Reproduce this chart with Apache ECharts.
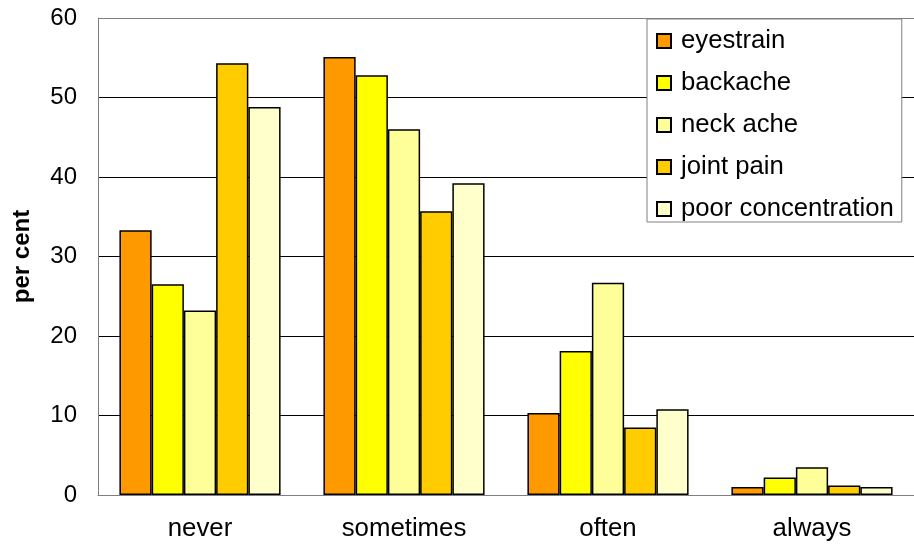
<!DOCTYPE html>
<html>
<head>
<meta charset="utf-8">
<script src="https://cdn.jsdelivr.net/npm/echarts@6/dist/echarts.min.js"></script>
<style>
html,body{margin:0;padding:0;background:#fff;}
#chart{width:914px;height:546px;}
</style>
</head>
<body>
<div id="chart"></div>
<script>
var categories = ['never', 'sometimes', 'often', 'always'];
var eyestrain = [33.3, 55.1, 10.3, 1.0];
var backache = [26.5, 52.8, 18.1, 2.2];
var neckAche = [23.2, 46.0, 26.7, 3.5];
var jointPain = [54.3, 35.7, 8.5, 1.2];
var poorConcentration = [48.8, 39.2, 10.8, 1.0];
var yTicks = [0, 10, 20, 30, 40, 50, 60];

var seriesNames = ['eyestrain', 'backache', 'neck ache', 'joint pain', 'poor concentration'];
var seriesData = [eyestrain, backache, neckAche, jointPain, poorConcentration];
var seriesColors = ['#FF9900', '#FFFF00', '#FFFF99', '#FFCC00', '#FFFFCC'];

var FONT = "'Liberation Sans', Arial, sans-serif";

var chart = echarts.init(document.getElementById('chart'), null, {renderer: 'canvas'});
chart.setOption({
  animation: false,
  backgroundColor: '#fff',
  grid: {left: 98, right: 0, top: 18, bottom: 51, containLabel: false},
  legend: {
    orient: 'vertical',
    left: 647,
    top: 19,
    padding: [9, 8, 0, 9],
    itemGap: 16,
    itemWidth: 14,
    itemHeight: 14,
    icon: 'rect',
    backgroundColor: '#fff',
    borderColor: '#808080',
    borderWidth: 1,
    borderRadius: 0,
    textStyle: {fontFamily: FONT, fontSize: 25.7, color: '#000', lineHeight: 24, padding: [0, 0, 0, 5]},
    data: seriesNames
  },
  xAxis: {
    type: 'category',
    data: categories,
    axisLine: {show: true, lineStyle: {color: '#808080', width: 1}},
    axisTick: {show: false},
    axisLabel: {fontFamily: FONT, fontSize: 25.8, color: '#000', margin: 21}
  },
  yAxis: {
    type: 'value',
    min: yTicks[0],
    max: yTicks[yTicks.length - 1],
    interval: 10,
    name: 'per cent',
    nameLocation: 'middle',
    nameGap: 64,
    nameTextStyle: {fontFamily: FONT, fontSize: 24, fontWeight: 'bold', color: '#000'},
    axisLine: {show: true, lineStyle: {color: '#808080', width: 1}},
    axisTick: {show: false},
    axisLabel: {fontFamily: FONT, fontSize: 24, color: '#000', margin: 21},
    splitLine: {show: true, lineStyle: {color: ['#808080', '#000', '#000', '#000', '#000', '#000', '#808080'], width: 1}}
  },
  series: seriesNames.map(function (n, i) {
    return {
      name: n,
      type: 'bar',
      data: seriesData[i],
      barGap: '0%',
      barCategoryGap: '21%',
      itemStyle: {color: seriesColors[i], borderColor: '#000', borderWidth: 1.5}
    };
  })
});
</script>
</body>
</html>
